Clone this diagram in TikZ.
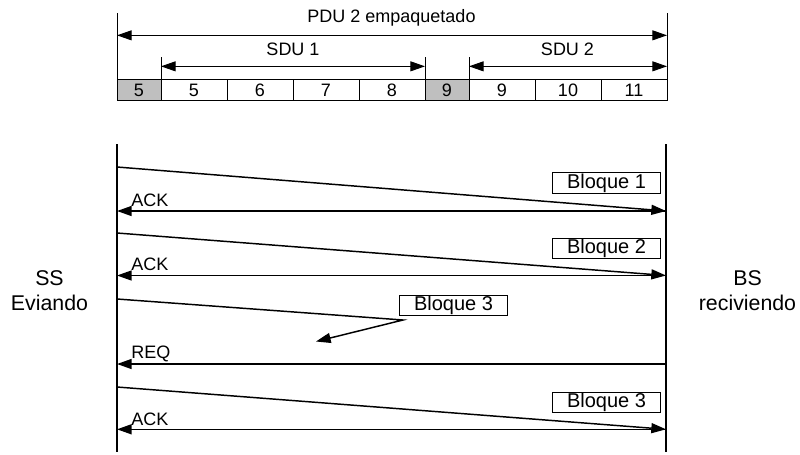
\documentclass[tikz,border=0pt]{standalone}
\usepackage{fontspec}
\setmainfont{Liberation Sans}
\usepackage{xcolor}
\usepackage{tikz}
\usetikzlibrary{arrows.meta,positioning}

\begin{document}
\begin{tikzpicture}[
    x=0.75pt, y=-0.75pt,
    >={Triangle[length=11pt,width=7.5pt]},
    txt/.style = {font=\fontsize{13.5pt}{16pt}\selectfont, inner sep=0pt},
    cell/.style = {rectangle, draw, line width=0.75pt, minimum height=16pt,
                  inner sep=0pt, outer sep=0pt, font=\fontsize{13.5pt}{16pt}\selectfont},
    wide/.style = {cell, minimum width=49.5pt},
    hdr/.style = {cell, minimum width=33pt, fill=black!25},
    dim/.style = {line width=0.75pt},
    life/.style = {line width=2pt},
    msg/.style = {line width=1.1pt},
    blk/.style = {rectangle, draw, line width=0.75pt, minimum width=81pt,
                 minimum height=15.5pt, inner sep=0pt, font=\fontsize{15pt}{17pt}\selectfont},
    side/.style = {align=center, inner sep=0pt, font=\fontsize{16pt}{18.75pt}\selectfont}
]
\useasboundingbox (0,0) rectangle (800,454);

% Packed PDU
\node[hdr] (c1) at (139,90) {5};
\node[wide, right=0pt of c1] (c2) {5};
\node[wide, right=0pt of c2] (c3) {6};
\node[wide, right=0pt of c3] (c4) {7};
\node[wide, right=0pt of c4] (c5) {8};
\node[hdr, right=0pt of c5] (c6) {9};
\node[wide, right=0pt of c6] (c7) {9};
\node[wide, right=0pt of c7] (c8) {10};
\node[wide, right=0pt of c8] (c9) {11};

% Dimension lines
\path (c1.north west) ++(0,-66) coordinate (pduL);
\path (c9.north east) ++(0,-66) coordinate (pduR);
\draw[dim] (pduL) -- (c1.south west);
\draw[dim] (pduR) -- (c9.south east);
\draw[dim] (c2.north west) -- ++(0,-22);
\draw[dim] (c5.north east) -- ++(0,-22);
\draw[dim] (c7.north west) -- ++(0,-22);
\draw[dim,<->] ([yshift=-16.5pt]pduL) -- ([yshift=-16.5pt]pduR);
\draw[dim,<->] ([yshift=9.75pt]c2.north west) -- ([yshift=9.75pt]c5.north east);
\draw[dim,<->] ([yshift=9.75pt]c7.north west) -- ([yshift=9.75pt]c9.north east);

% Labels
\node[txt, anchor=base] (pdu) at (391.5,22) {PDU 2 empaquetado};
\node[txt, anchor=base] (sdu1) at (293,55) {SDU 1};
\node[txt, anchor=base] (sdu2) at (567.5,55) {SDU 2};

% Lifelines
\coordinate (ssTop) at (117,144);
\coordinate (ssBot) at (117,452);
\coordinate (bsTop) at (666,144);
\coordinate (bsBot) at (666,452);
\draw[life] (ssTop) -- (ssBot);
\draw[life] (bsTop) -- (bsBot);
\node[side] (ss) at (49.5,290.5) {SS\\Eviando};
\node[side] (bs) at (747.5,290.5) {BS\\reciviendo};

% Blocks and acknowledgements
\node[blk] (b1) at (606.5,183) {Bloque 1};
\node[blk] (b2) at (606.5,248.5) {Bloque 2};
\node[blk] (b3) at (453.5,305.5) {Bloque 3};
\node[blk] (b4) at (606.5,402.5) {Bloque 3};

\coordinate (m1s) at (117,167);
\coordinate (m1e) at (666,211);
\draw[msg,->] (m1s) -- (m1e);
\draw[msg,->] (m1e) -- (m1e -| ssTop);
\node[txt, anchor=base west] (ack1) at (131,206) {ACK};

\coordinate (m2s) at (117,233);
\coordinate (m2e) at (666,275.5);
\draw[msg,->] (m2s) -- (m2e);
\draw[msg,->] (m2e) -- (m2e -| ssTop);
\node[txt, anchor=base west] (ack2) at (131,270.8) {ACK};

% Lost block and request
\coordinate (m3s) at (117,299);
\coordinate (m3k) at (403,320);
\coordinate (m3e) at (316,341.5);
\draw[msg,->] (m3s) -- (m3k) -- (m3e);

\coordinate (rq) at (666,364);
\draw[msg,->] (rq) -- (rq -| ssTop);
\node[txt, anchor=base west] (req) at (131,358.3) {REQ};

\coordinate (m4s) at (117,387);
\coordinate (m4e) at (666,429.3);
\draw[msg,->] (m4s) -- (m4e);
\draw[msg,->] (m4e) -- (m4e -| ssTop);
\node[txt, anchor=base west] (ack3) at (131,425) {ACK};

\end{tikzpicture}
\end{document}
